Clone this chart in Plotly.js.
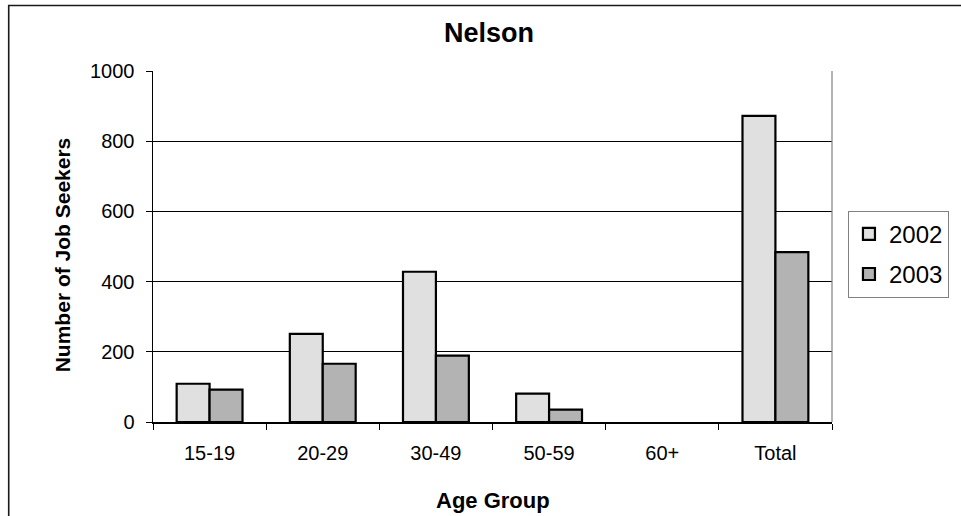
<!DOCTYPE html>
<html>
<head>
<meta charset="utf-8">
<script src="https://cdn.plot.ly/plotly-3.0.1.min.js"></script>
<style>html,body{margin:0;padding:0;background:#fff;}#chart{width:961px;height:516px;}</style>
</head>
<body>
<div id="chart"></div>
<script>
const categories = ['15-19', '20-29', '30-49', '50-59', '60+', 'Total'];
const seriesNames = ['2002', '2003'];
const values2002 = [109, 251, 428, 81, 0, 872];
const values2003 = [92, 166, 189, 35, 0, 484];
const yTicks = [0, 200, 400, 600, 800, 1000];

const FONT = '"Liberation Sans", Arial, sans-serif';
const outline = vals => vals.map(v => (v === 0 ? 0 : 2.2));

const traces = [
  {
    type: 'bar', name: seriesNames[0], x: categories, y: values2002,
    legendgroup: 'a',
    marker: {color: '#e0e0e0', line: {color: '#000', width: outline(values2002)}},
    hoverinfo: 'x+y'
  },
  {
    type: 'bar', name: seriesNames[1], x: categories, y: values2003,
    legendgroup: 'b',
    marker: {color: '#b3b3b3', line: {color: '#000', width: outline(values2003)}},
    hoverinfo: 'x+y'
  }
];

const layout = {
  width: 961, height: 516,
  margin: {l: 153, r: 127, t: 71, b: 94, pad: 0},
  paper_bgcolor: '#fff', plot_bgcolor: '#fff',
  font: {family: FONT, color: '#000', size: 20},
  barmode: 'group', bargap: 0.418, bargroupgap: 0,
  showlegend: true,
  legend: {
    x: 1.0235, xanchor: 'left', y: 0.602, yanchor: 'top',
    bgcolor: '#fff', bordercolor: '#808080', borderwidth: 1,
    font: {family: FONT, size: 24, color: '#000'},
    traceorder: 'grouped', tracegroupgap: 6, itemwidth: 30
  },
  xaxis: {
    type: 'category', tickson: 'boundaries',
    ticks: 'outside', ticklen: 6, tickcolor: '#000', tickwidth: 1,
    showline: true, linecolor: '#000', linewidth: 1.5,
    showgrid: false, zeroline: false,
    tickfont: {family: FONT, size: 20, color: '#000'},
    ticklabelstandoff: 12,
    fixedrange: true
  },
  yaxis: {
    range: [0, 1000], tickvals: yTicks,
    ticks: 'outside', ticklen: 6, tickcolor: '#000', tickwidth: 1,
    showline: true, linecolor: '#000', linewidth: 1.5,
    showgrid: true, gridcolor: '#000', gridwidth: 1,
    zeroline: false,
    tickfont: {family: FONT, size: 20, color: '#000'},
    ticklabelstandoff: 7,
    fixedrange: true
  },
  shapes: [
    {type: 'line', xref: 'paper', yref: 'paper', x0: 1, x1: 1, y0: 0, y1: 1, line: {color: '#808080', width: 1.2}},
    {type: 'rect', xref: 'paper', yref: 'paper', x0: -0.2125, x1: 1.5, y0: 1.1868, y1: -0.5, line: {color: '#1a1a1a', width: 1.6}, layer: 'below'}
  ],
  annotations: [
    {text: '<b>Nelson</b>', xref: 'paper', yref: 'paper', x: 0.495, y: 1.1077, xanchor: 'center', yanchor: 'middle', showarrow: false, font: {family: FONT, size: 27, color: '#000'}},
    {text: '<b>Number of Job Seekers</b>', xref: 'paper', yref: 'paper', x: -0.132, y: 0.476, xanchor: 'center', yanchor: 'middle', textangle: -90, showarrow: false, font: {family: FONT, size: 21, color: '#000'}},
    {text: '<b>Age Group</b>', xref: 'paper', yref: 'paper', x: 0.5, y: -0.225, xanchor: 'center', yanchor: 'middle', showarrow: false, font: {family: FONT, size: 22, color: '#000'}}
  ]
};

Plotly.newPlot('chart', traces, layout, {displayModeBar: false, staticPlot: true});
</script>
</body>
</html>
